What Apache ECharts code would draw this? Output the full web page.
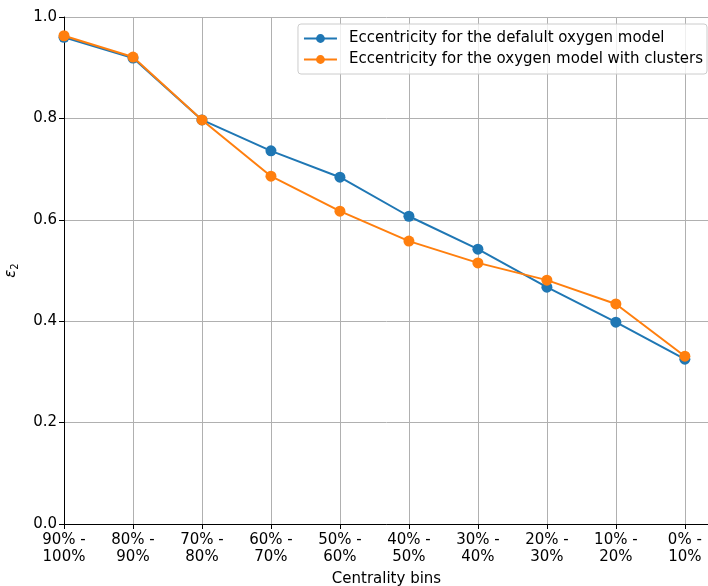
<!DOCTYPE html>
<html>
<head>
<meta charset="utf-8">
<script src="https://cdn.jsdelivr.net/npm/echarts@6/dist/echarts.min.js"></script>
<style>
  html, body { margin: 0; padding: 0; background: #fff; }
  #chart { width: 708px; height: 586px; }
</style>
</head>
<body>
<div id="chart"></div>
<script>
// 中心度分組
const categories = ['90% -\n100%', '80% -\n90%', '70% -\n80%', '60% -\n70%', '50% -\n60%',
  '40% -\n50%', '30% -\n40%', '20% -\n30%', '10% -\n20%', '0% -\n10%'];
const defaultModel = [0.960, 0.919, 0.797, 0.736, 0.684, 0.607, 0.542, 0.467, 0.398, 0.325];
const clusterModel = [0.963, 0.921, 0.797, 0.686, 0.617, 0.558, 0.515, 0.481, 0.434, 0.331];
const seriesNames = ['Eccentricity for the defalult oxygen model', 'Eccentricity for the oxygen model with clusters'];

const font = 'DejaVu Sans';
const chart = echarts.init(document.getElementById('chart'), null, { renderer: 'canvas' });

const toPoints = (arr) => arr.map((v, i) => [i, v]);

chart.setOption({
  animation: false,
  textStyle: { fontFamily: font },
  grid: { left: 64, right: -1, top: 17, bottom: 62, containLabel: false, outerBoundsMode: 'none' },
  legend: {
    top: 24,
    right: 1,
    orient: 'vertical',
    itemWidth: 33,
    itemHeight: 11,
    itemGap: 6,
    padding: [7, 4, 7, 5],
    backgroundColor: 'rgba(255,255,255,0.8)',
    borderColor: '#cccccc',
    borderWidth: 1,
    borderRadius: 3,
    textStyle: { fontSize: 15, color: '#000', fontFamily: font, padding: [0, 0, 0, 7] },
    data: seriesNames,
  },
  xAxis: {
    type: 'value',
    min: 0,
    max: 9.35,
    interval: 1,
    name: 'Centrality bins',
    nameLocation: 'middle',
    nameGap: 48,
    nameTextStyle: { fontSize: 15, color: '#000', fontFamily: font },
    axisLine: { show: true, lineStyle: { color: '#000', width: 1 } },
    axisTick: { show: true, length: 5, lineStyle: { color: '#000' } },
    axisLabel: {
      fontSize: 15,
      color: '#000',
      fontFamily: font,
      margin: 8,
      lineHeight: 17,
      showMaxLabel: false,
      formatter: (v) => (Number.isInteger(v) && categories[v] ? categories[v] : ''),
    },
    splitLine: { show: true, lineStyle: { color: '#b0b0b0', width: 1 } },
  },
  yAxis: {
    type: 'value',
    min: 0,
    max: 1,
    interval: 0.2,
    name: '{e|ε}{s|2}',
    nameLocation: 'middle',
    nameRotate: 90,
    nameGap: 44,
    nameTextStyle: {
      fontSize: 15,
      color: '#000',
      fontFamily: font,
      rich: {
        e: { fontSize: 15, fontStyle: 'italic', fontFamily: font, color: '#000' },
        s: { fontSize: 10, fontFamily: font, color: '#000', verticalAlign: 'bottom', padding: [7, 0, 0, 0] },
      },
    },
    axisLine: { show: true, lineStyle: { color: '#000', width: 1 } },
    axisTick: { show: true, length: 5, lineStyle: { color: '#000' } },
    axisLabel: {
      fontSize: 15,
      color: '#000',
      fontFamily: font,
      margin: 7,
      formatter: (v) => v.toFixed(1),
    },
    splitLine: { show: true, lineStyle: { color: '#b0b0b0', width: 1 } },
  },
  series: [
    {
      name: seriesNames[0],
      type: 'line',
      data: toPoints(defaultModel),
      color: '#1f77b4',
      symbol: 'circle',
      symbolSize: 11,
      lineStyle: { width: 2 },
      z: 2,
    },
    {
      name: seriesNames[1],
      type: 'line',
      data: toPoints(clusterModel),
      color: '#ff7f0e',
      symbol: 'circle',
      symbolSize: 11,
      lineStyle: { width: 2 },
      z: 3,
    },
  ],
});
</script>
</body>
</html>
